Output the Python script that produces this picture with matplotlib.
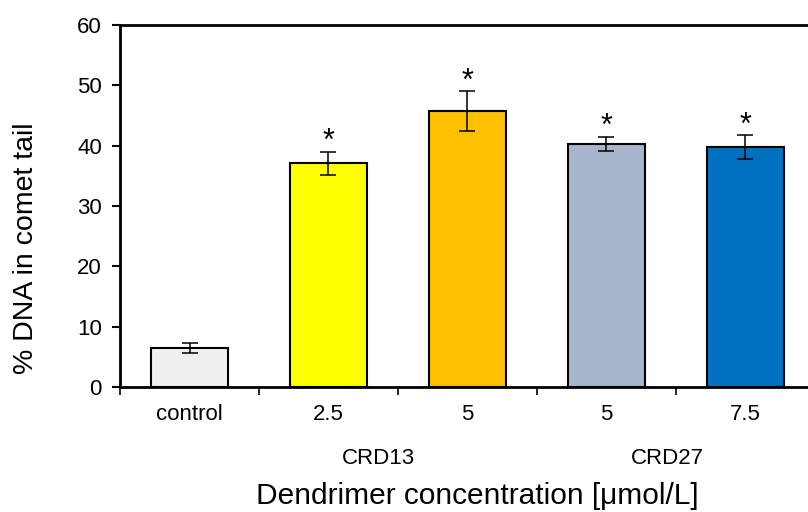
"""
Comet assay: % DNA in comet tail after dendrimer treatment.
"""
import matplotlib.pyplot as plt

plt.rcParams['font.family'] = ['Liberation Sans', 'DejaVu Sans']

# Data
labels = ['control', '2.5', '5', '5', '7.5']
means = [6.5, 37.1, 45.7, 40.3, 39.8]
errors = [0.85, 1.9, 3.3, 1.2, 1.95]
significant = [False, True, True, True, True]
colors = ['#F0F0F0', '#FFFF00', '#FFC000', '#A7B6CC', '#0070C0']
groups = ['CRD13', 'CRD27']
group_pos = [1.86, 3.94]

fig = plt.figure(figsize=(8.08, 5.12), dpi=100)
ax = fig.add_axes([120 / 808, 125 / 512, 695 / 808, 362 / 512])

x = [i + 0.5 for i in range(len(labels))]
ax.bar(x, means, width=0.56, color=colors, edgecolor='black', linewidth=1.5,
       zorder=2)
ax.errorbar(x, means, yerr=errors, fmt='none', ecolor='black', elinewidth=1.1,
            capsize=6, capthick=1.1, zorder=3)

# significance marks above the error bars
for xi, m, e, s in zip(x, means, errors, significant):
    if s:
        ax.text(xi, m + e + 1.6, '*', ha='center', va='center', fontsize=22)

ax.set_xlim(0, 5)
ax.set_ylim(0, 60)
ax.set_yticks(range(0, 61, 10))
ax.tick_params(axis='y', direction='out', length=6, width=1.5, labelsize=16, pad=7)

# category boundaries as ticks, labels as minor ticks
ax.set_xticks(range(0, 6))
ax.set_xticklabels([])
ax.tick_params(axis='x', which='major', direction='out', length=6, width=1.2)
ax.set_xticks(x, minor=True)
ax.set_xticklabels(labels, minor=True)
ax.tick_params(axis='x', which='minor', length=0, labelsize=16, pad=12)

for g, gp in zip(groups, group_pos):
    ax.text(gp, -11.8, g, ha='center', va='center', fontsize=16)

for sp in ax.spines.values():
    sp.set_linewidth(2)

ax.set_ylabel('% DNA in comet tail', fontsize=20.5)
ax.yaxis.set_label_coords(-0.117, 0.384)
fig.text(477 / 808, 1 - 496 / 512, 'Dendrimer concentration [μmol/L]',
         ha='center', va='center', fontsize=21.5)

plt.savefig('out.png', dpi=100)
